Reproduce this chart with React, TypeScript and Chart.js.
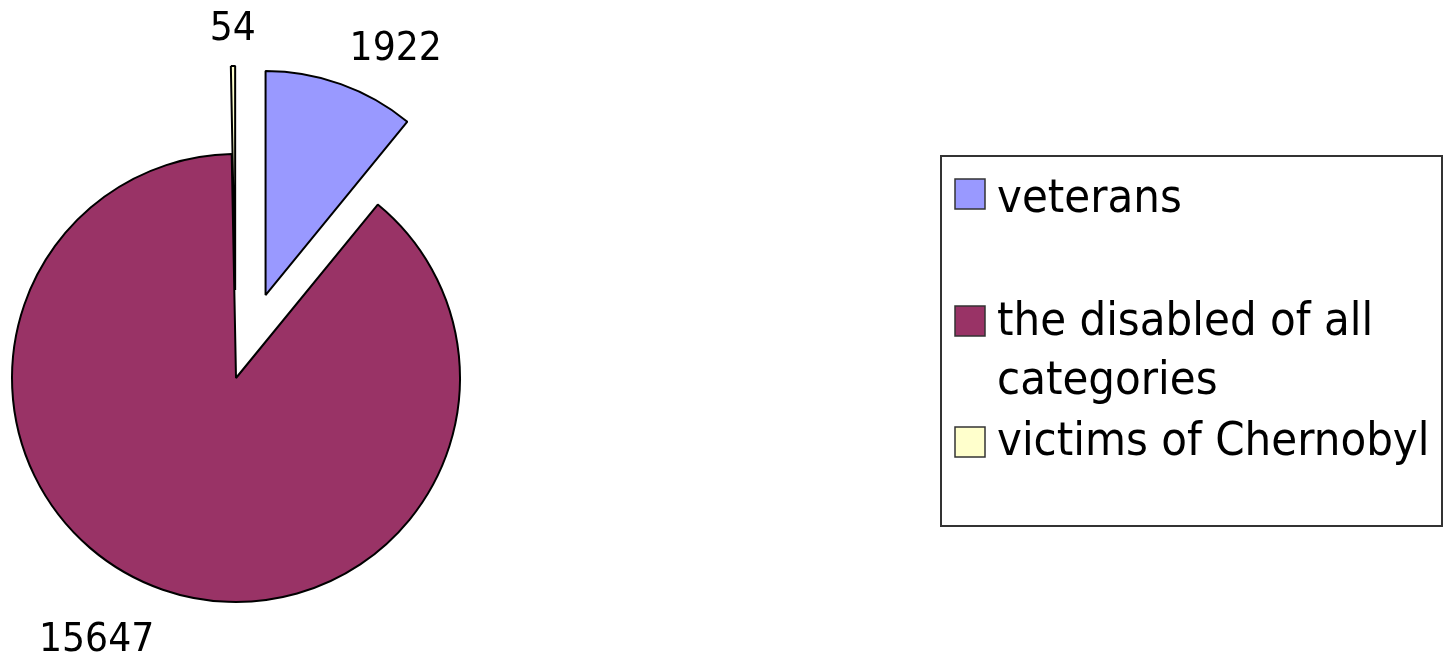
import React, { useEffect, useRef } from 'react';
import { Chart, registerables } from 'chart.js';

Chart.register(...registerables);

// ---- data ----
const categories: (string | string[])[] = [
  'veterans',
  ['the disabled of all', 'categories'],
  'victims of Chernobyl',
];
const values: number[] = [1922, 15647, 54];
const colors: string[] = ['#9999ff', '#993366', '#ffffcc'];
const explode: number[] = [88, 0, 88];

// ---- layout / style ----
const W = 1443;
const H = 660;
const PIE_CX = 236;
const PIE_CY = 378;
const PIE_R = 224;
const BORDER = 2;
const FONT = "'DejaVu Sans', 'Liberation Sans', sans-serif";
const LABEL_SIZE = 39;
const LABEL_GAP = 26;
const LABEL_SCALE_X = 0.93;

const LEGEND_BOX = { x: 941, y: 156, w: 501, h: 370 };
const LEGEND_SWATCH_X = 955;
const LEGEND_SWATCH = 30;
const LEGEND_TEXT_X = 997;
const LEGEND_SWATCH_TOPS = [179, 306, 427];
const LEGEND_BASELINES = [212, 335, 455];
const LEGEND_LINE_H = 59;
const LEGEND_SIZE = 46;
const LEGEND_SCALE_X = 0.915;

const side = 2 * PIE_R + BORDER;
const padding = {
  left: PIE_CX - side / 2,
  top: PIE_CY - side / 2,
  right: W - (PIE_CX + side / 2),
  bottom: H - (PIE_CY + side / 2),
};

const explodePlugin = {
  id: 'explodeSlices',
  afterDatasetsUpdate(chart: any) {
    const meta = chart.getDatasetMeta(0);
    meta.data.forEach((arc: any, i: number) => {
      const d = explode[i] || 0;
      if (!d) return;
      const mid = (arc.startAngle + arc.endAngle) / 2;
      arc.x += Math.cos(mid) * d;
      arc.y += Math.sin(mid) * d;
    });
  },
};

const valueLabelPlugin = {
  id: 'valueLabels',
  afterDatasetsDraw(chart: any) {
    const ctx = chart.ctx as CanvasRenderingContext2D;
    const meta = chart.getDatasetMeta(0);
    ctx.save();
    ctx.font = `${LABEL_SIZE}px ${FONT}`;
    ctx.fillStyle = '#000';
    ctx.textBaseline = 'alphabetic';
    ctx.textAlign = 'left';
    meta.data.forEach((arc: any, i: number) => {
      const mid = (arc.startAngle + arc.endAngle) / 2;
      const dx = Math.cos(mid);
      const dy = Math.sin(mid);
      const r = arc.outerRadius + LABEL_GAP;
      const px = arc.x + dx * r;
      const py = arc.y + dy * r;
      const text = String(values[i]);
      const w = ctx.measureText(text).width * LABEL_SCALE_X;
      const left = dx > 0.2 ? px : dx < -0.2 ? px - w : px - w / 2;
      const base = dy < 0 ? py : py + LABEL_SIZE * 0.93;
      ctx.save();
      ctx.translate(left, base);
      ctx.scale(LABEL_SCALE_X, 1);
      ctx.fillText(text, 0, 0);
      ctx.restore();
    });
    ctx.restore();
  },
};

const legendPlugin = {
  id: 'boxLegend',
  afterDraw(chart: any) {
    const ctx = chart.ctx as CanvasRenderingContext2D;
    ctx.save();
    ctx.strokeStyle = '#333';
    ctx.lineWidth = 2;
    ctx.strokeRect(LEGEND_BOX.x, LEGEND_BOX.y, LEGEND_BOX.w, LEGEND_BOX.h);
    ctx.font = `${LEGEND_SIZE}px ${FONT}`;
    ctx.textBaseline = 'alphabetic';
    ctx.textAlign = 'left';
    categories.forEach((label, i) => {
      ctx.fillStyle = colors[i];
      ctx.fillRect(LEGEND_SWATCH_X, LEGEND_SWATCH_TOPS[i], LEGEND_SWATCH, LEGEND_SWATCH);
      ctx.strokeStyle = '#333';
      ctx.lineWidth = 1.5;
      ctx.strokeRect(LEGEND_SWATCH_X, LEGEND_SWATCH_TOPS[i], LEGEND_SWATCH, LEGEND_SWATCH);
      const lines = Array.isArray(label) ? label : [label];
      ctx.fillStyle = '#000';
      lines.forEach((line, j) => {
        ctx.save();
        ctx.translate(LEGEND_TEXT_X, LEGEND_BASELINES[i] + j * LEGEND_LINE_H);
        ctx.scale(LEGEND_SCALE_X, 1);
        ctx.fillText(line, 0, 0);
        ctx.restore();
      });
    });
    ctx.restore();
  },
};

export default function App() {
  const canvasRef = useRef<HTMLCanvasElement | null>(null);

  useEffect(() => {
    const canvas = canvasRef.current;
    if (!canvas) return;
    const chart = new Chart(canvas, {
      type: 'pie',
      data: {
        labels: categories as any,
        datasets: [
          {
            data: values,
            backgroundColor: colors,
            borderColor: '#000',
            borderWidth: BORDER,
            hoverOffset: 0,
            offset: 0,
          } as any,
        ],
      },
      options: {
        responsive: false,
        maintainAspectRatio: false,
        animation: false,
        events: [],
        rotation: 0,
        layout: { padding },
        plugins: {
          legend: { display: false },
          tooltip: { enabled: false },
          title: { display: false },
        },
      },
      plugins: [explodePlugin, valueLabelPlugin, legendPlugin],
    });
    return () => chart.destroy();
  }, []);

  return (
    <div style={{ position: 'fixed', left: 0, top: 0, width: W, height: H, background: '#fff' }}>
      <canvas ref={canvasRef} width={W} height={H} style={{ display: 'block', width: W, height: H }} />
    </div>
  );
}
